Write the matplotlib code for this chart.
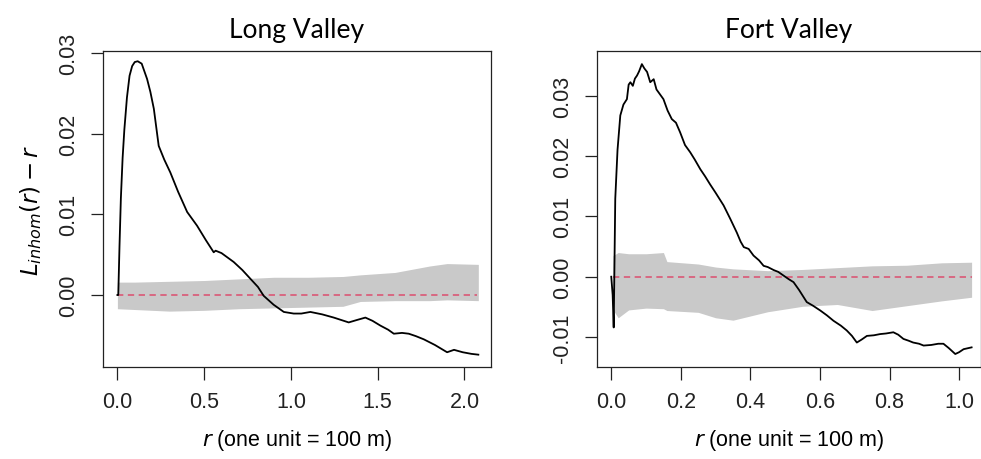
import matplotlib
matplotlib.use("Agg")
import matplotlib.pyplot as plt
import numpy as np

# Long Valley: observed L(r) - r
lv_r = [0.0, 0.005, 0.012, 0.02, 0.03, 0.04, 0.055, 0.07, 0.085, 0.1, 0.117,
        0.14, 0.171, 0.19, 0.21, 0.238, 0.27, 0.305, 0.35, 0.402, 0.459, 0.51,
        0.555, 0.566, 0.6, 0.67, 0.72, 0.767, 0.81, 0.843, 0.9, 0.959,
        1.016, 1.06, 1.112, 1.18, 1.247, 1.29, 1.333, 1.38, 1.429, 1.47,
        1.516, 1.56, 1.593, 1.64, 1.679, 1.72, 1.766, 1.83, 1.9, 1.94,
        1.99, 2.04, 2.08]
lv_obs = [0.0, 0.0, 0.006, 0.012, 0.017, 0.0205, 0.0245, 0.0272, 0.0284, 0.0289, 0.029,
          0.0287, 0.0268, 0.0252, 0.0231, 0.0185, 0.0168, 0.0152, 0.0128, 0.0103, 0.0086, 0.0068,
          0.0053, 0.0055, 0.0052, 0.0041, 0.0031, 0.002, 0.001, -0.0001, -0.0012, -0.0021,
          -0.0023, -0.0023, -0.0021, -0.0024, -0.0028, -0.0031, -0.0034, -0.0031, -0.0028, -0.0032,
          -0.0038, -0.0043, -0.0048, -0.0047, -0.0048, -0.0051, -0.0055, -0.0062, -0.0071, -0.0068,
          -0.0071, -0.0073, -0.0074]

# Long Valley: simulation envelope
lv_env_r = [0.0, 0.1, 0.3, 0.5, 0.7, 0.9, 1.1, 1.3, 1.4, 1.6, 1.8, 1.9, 2.08]
lv_hi = [0.0016, 0.0016, 0.0017, 0.0018, 0.0020, 0.0022, 0.0022, 0.0023, 0.0025, 0.0028, 0.0036, 0.0039, 0.0038]
lv_lo = [-0.0017, -0.0018, -0.0020, -0.0019, -0.0017, -0.0016, -0.0015, -0.0014, -0.0008, -0.0007, -0.0007, -0.0006, -0.0007]

# Fort Valley: observed L(r) - r
fv_r = [0.0, 0.004, 0.007, 0.0115, 0.018, 0.026, 0.035, 0.045, 0.05, 0.055, 0.062,
        0.068, 0.074, 0.08, 0.088, 0.095, 0.103, 0.112, 0.122, 0.13, 0.14,
        0.15, 0.162, 0.174, 0.186, 0.198, 0.212, 0.227, 0.24, 0.256, 0.27,
        0.284, 0.3, 0.323, 0.342, 0.361, 0.372, 0.381, 0.395, 0.409, 0.425,
        0.438, 0.45, 0.467, 0.48, 0.495, 0.51, 0.524, 0.54, 0.562, 0.58,
        0.601, 0.62, 0.639, 0.66, 0.677, 0.692, 0.706, 0.72, 0.735, 0.755,
        0.773, 0.79, 0.811, 0.825, 0.84, 0.855, 0.868, 0.885, 0.898, 0.92,
        0.94, 0.955, 0.97, 0.989, 1.0, 1.013, 1.036]
fv_obs = [0.0, -0.003, -0.0084, 0.0129, 0.021, 0.0267, 0.0285, 0.0294, 0.0318, 0.0322, 0.0316,
          0.0328, 0.0333, 0.034, 0.0352, 0.0345, 0.0339, 0.0322, 0.0327, 0.031, 0.0302,
          0.0294, 0.0275, 0.0261, 0.0255, 0.0239, 0.0218, 0.0206, 0.0194, 0.0178, 0.0166,
          0.0153, 0.0139, 0.0118, 0.0096, 0.0073, 0.0058, 0.0049, 0.0046, 0.0035, 0.0027,
          0.0018, 0.0016, 0.0011, 0.0008, 0.0002, -0.0004, -0.0009, -0.0022, -0.0042, -0.0048,
          -0.0056, -0.0064, -0.0073, -0.0081, -0.0089, -0.0098, -0.0109, -0.0104, -0.0098, -0.0097,
          -0.0095, -0.0094, -0.0092, -0.0096, -0.0103, -0.0106, -0.0109, -0.0111, -0.0114, -0.0113,
          -0.0111, -0.0111, -0.0118, -0.0128, -0.0125, -0.012, -0.0117]

# Fort Valley: simulation envelope
fv_env_r = [0.005, 0.02, 0.05, 0.1, 0.15, 0.16, 0.25, 0.3, 0.35, 0.45, 0.55, 0.65, 0.75, 0.85, 0.95, 1.036]
fv_hi = [0.0035, 0.004, 0.0038, 0.0038, 0.004, 0.0025, 0.0021, 0.0016, 0.0013, 0.001, 0.0012, 0.0015, 0.0018, 0.0019, 0.0023, 0.0024]
fv_lo = [-0.0055, -0.0068, -0.0055, -0.0052, -0.0053, -0.0056, -0.0059, -0.0068, -0.0072, -0.0058, -0.0049, -0.0046, -0.0056, -0.0048, -0.0040, -0.0034]

TICK_FONT = "Liberation Sans"
TITLE_FONT = "Lato"
FS = 15.5

fig = plt.figure(figsize=(9.81, 4.6), dpi=100)
W, H = 981, 460


def make_ax(x0, x1, y0, y1):
    return fig.add_axes([x0 / W, 1 - y1 / H, (x1 - x0) / W, (y1 - y0) / H])


def style(ax, title, xticks, yticks, xlim, ylim):
    ax.set_xlim(*xlim)
    ax.set_ylim(*ylim)
    ax.set_xticks(xticks)
    ax.set_xticklabels([f"{t:.1f}" for t in xticks], family=TICK_FONT, fontsize=FS)
    ax.set_yticks(yticks)
    ax.set_yticklabels([f"{t:.2f}" for t in yticks], family=TICK_FONT, fontsize=FS,
                       rotation=90, va="center")
    ax.tick_params(direction="out", length=9, width=0.9, pad=8, colors="#222222")
    for s in ax.spines.values():
        s.set_linewidth(0.9)
        s.set_color("#222222")
    ax.set_title(title, family=TITLE_FONT, fontsize=19, pad=10)
    ax.set_xlabel(r"$r$ (one unit = 100 m)", family=TICK_FONT, fontsize=FS, labelpad=11)


ax1 = make_ax(103, 491, 52, 368)
ax1.fill_between(lv_env_r, lv_lo, lv_hi, color="#c9c9c9", lw=0)
ax1.axhline(0, xmin=0.037, xmax=0.963, color="#d9607c", lw=1.3, ls=(0, (3.5, 2.5)))
ax1.plot(lv_r, lv_obs, color="black", lw=1.3)
style(ax1, "Long Valley", [0.0, 0.5, 1.0, 1.5, 2.0], [0.0, 0.01, 0.02, 0.03],
      (-0.083, 2.153), (-0.00893, 0.03027))
ax1.set_ylabel(r"$L_{inhom}(r) - r$", fontsize=16.5, labelpad=10)

ax2 = make_ax(597, 981, 52, 368)
ax2.fill_between(fv_env_r, fv_lo, fv_hi, color="#c9c9c9", lw=0)
ax2.plot([0.005, 1.036], [0, 0], color="#d9607c", lw=1.3, ls=(0, (3.5, 2.5)))
ax2.plot(fv_r, fv_obs, color="black", lw=1.3)
style(ax2, "Fort Valley", [0.0, 0.2, 0.4, 0.6, 0.8, 1.0], [-0.01, 0.0, 0.01, 0.02, 0.03],
      (-0.041, 1.063), (-0.01495, 0.03737))

fig.savefig("out.png", dpi=100)
